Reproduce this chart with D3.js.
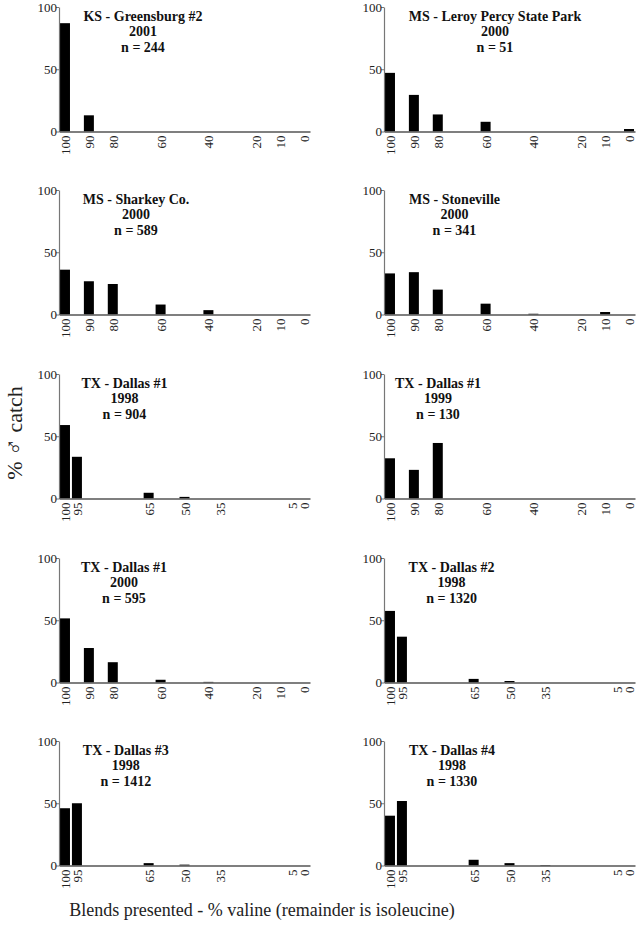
<!DOCTYPE html>
<html>
<head>
<meta charset="utf-8">
<script src="https://cdn.jsdelivr.net/npm/d3@7"></script>
<style>
  html, body { margin: 0; padding: 0; background: #fff; }
  svg { display: block; }
  text { font-family: "Liberation Serif", "Times New Roman", serif; }
</style>
</head>
<body>
<script>
// ---------- DATA ----------
const sites = ["KS - Greensburg #2", "MS - Leroy Percy State Park", "MS - Sharkey Co.", "MS - Stoneville",
               "TX - Dallas #1", "TX - Dallas #1", "TX - Dallas #1", "TX - Dallas #2", "TX - Dallas #3", "TX - Dallas #4"];
const years = ["2001", "2000", "2000", "2000", "1998", "1999", "2000", "1998", "1998", "1998"];
const counts = [244, 51, 589, 341, 904, 130, 595, 1320, 1412, 1330];

const blendsA = [100, 90, 80, 60, 40, 20, 10, 0];
const blendsB = [100, 95, 65, 50, 35, 5, 0];
const blendSet = ["A", "A", "A", "A", "B", "A", "A", "B", "B", "B"];

// % male catch per blend (same order as the blend list of that panel)
const greensburg2001 = [87, 13, 0, 0, 0, 0, 0, 0];
const leroyPercy2000 = [47.1, 29.4, 13.7, 7.8, 0, 0, 0, 2.0];
const sharkey2000    = [36, 26.7, 24.5, 8, 3.5, 0, 0, 0];
const stoneville2000 = [33, 34, 20, 8.7, 0.6, 0, 2, 0];
const dallas1_1998   = [59, 33.5, 4.6, 1.3, 0, 0, 0];
const dallas1_1999   = [32.3, 23, 44.6, 0, 0, 0, 0, 0];
const dallas1_2000   = [51.5, 27.7, 16.3, 2.2, 0.5, 0, 0, 0];
const dallas2_1998   = [57.5, 36.8, 2.9, 1.2, 0, 0, 0];
const dallas3_1998   = [46, 50, 1.9, 0.7, 0, 0, 0];
const dallas4_1998   = [40, 51.8, 4.6, 1.9, 0.4, 0, 0];
const panelValues = [greensburg2001, leroyPercy2000, sharkey2000, stoneville2000, dallas1_1998,
                     dallas1_1999, dallas1_2000, dallas2_1998, dallas3_1998, dallas4_1998];

const yTicks = [0, 50, 100];
const yLabelParts = ["% ", "\u2642", " catch"];
const xLabel = "Blends presented - % valine (remainder is isoleucine)";

// ---------- LAYOUT ----------
const W = 636, H = 931;
const colLeft = [59, 384];
const rowTop = [7, 190, 374, 558, 741];
const plotW = 251, plotH = 124.5;
const barW = 10;
const titleOffset = [84, 111, 77, 70.5, 65.5, 54, 65, 67.6, 66.8, 68];
const serif = "'Liberation Serif', 'Times New Roman', serif";

const svg = d3.select("body").append("svg").attr("width", W).attr("height", H)
  .attr("font-family", serif);

panelValues.forEach((vals, i) => {
  const col = i % 2, row = Math.floor(i / 2);
  const blends = blendSet[i] === "A" ? blendsA : blendsB;
  const x0 = colLeft[col], y0 = rowTop[row];
  const g = svg.append("g").attr("transform", `translate(${x0},${y0})`);

  const x = d3.scaleLinear().domain([102.5, -2.5]).range([0, plotW]);
  const y = d3.scaleLinear().domain([0, 100]).range([plotH, 0]);

  // bars
  g.selectAll("rect.bar")
    .data(blends.map((b, k) => ({ b, v: vals[k] })).filter(d => d.v > 0))
    .enter().append("rect")
    .attr("class", "bar")
    .attr("x", d => x(d.b) - barW / 2)
    .attr("width", barW)
    .attr("y", d => y(d.v))
    .attr("height", d => plotH - y(d.v))
    .attr("fill", "#000");

  // y axis
  const ya = g.append("g").call(d3.axisLeft(y).tickValues(yTicks).tickSize(3).tickSizeOuter(0));
  ya.attr("font-family", serif);
  ya.select(".domain").attr("stroke", "#777").attr("stroke-width", 1.2);
  ya.selectAll(".tick line").attr("stroke", "#777");
  ya.selectAll(".tick text").attr("font-size", 13).attr("fill", "#222").attr("x", -2);

  // x axis
  const xa = g.append("g").attr("transform", `translate(0,${plotH})`)
    .call(d3.axisBottom(x).tickValues(blends).tickSize(0).tickSizeOuter(0).tickFormat(d3.format("d")));
  xa.attr("font-family", serif);
  xa.select(".domain").attr("stroke", "#555").attr("stroke-width", 1.6);
  xa.selectAll(".tick text")
    .attr("font-size", 13).attr("fill", "#222")
    .attr("text-anchor", "end")
    .attr("transform", "rotate(-90)")
    .attr("x", -4).attr("y", 0).attr("dy", "0.35em");

  // title
  const t = g.append("text").attr("text-anchor", "middle")
    .attr("font-weight", "bold").attr("font-size", 14).attr("fill", "#111");
  [sites[i], years[i], "n = " + counts[i]].forEach((line, k) => {
    t.append("tspan").attr("x", titleOffset[i]).attr("y", 13.5 + k * 15.7).text(line);
  });
});

// shared axis labels
const yl = svg.append("text")
  .attr("transform", "translate(22,433) rotate(-90)")
  .attr("text-anchor", "middle")
  .attr("font-size", 22).attr("fill", "#222");
yLabelParts.forEach((p, k) => {
  yl.append("tspan").attr("font-size", k === 1 ? 24 : 22).text(p);
});

svg.append("text")
  .attr("x", 262).attr("y", 916)
  .attr("text-anchor", "middle")
  .attr("font-size", 18).attr("fill", "#222")
  .text(xLabel);
</script>
</body>
</html>
